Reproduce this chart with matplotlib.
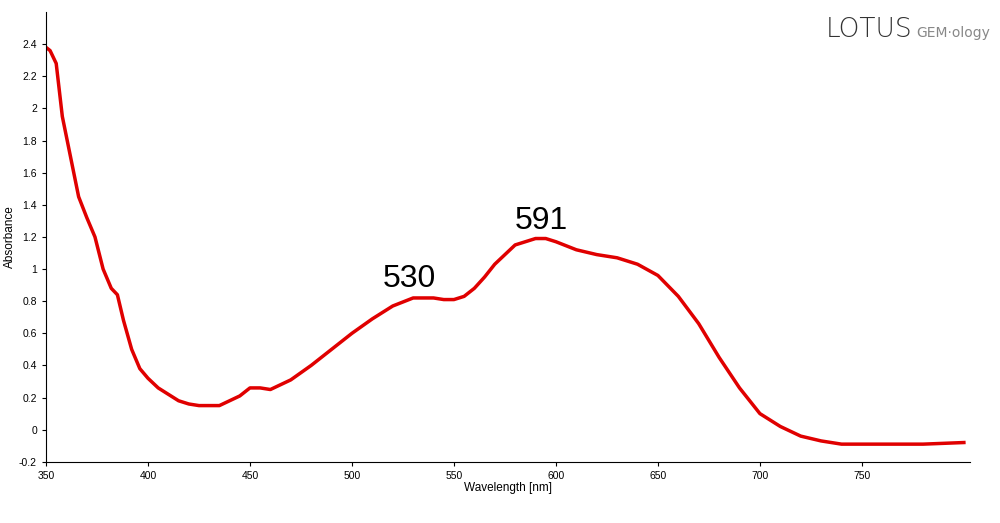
import matplotlib.pyplot as plt
import numpy as np

# spectrum
wl = [350, 352, 355, 358, 362, 366, 370, 374, 378, 382, 385, 388, 392, 396, 400, 405, 410, 415, 420, 425,
      430, 435, 440, 445, 450, 455, 460, 465, 470, 480, 490, 500, 510, 520, 530, 540, 545, 550, 555,
      560, 565, 570, 580, 590, 595, 600, 610, 620, 630, 640, 650, 660, 670, 680, 690, 700, 710, 720,
      730, 740, 750, 760, 770, 780, 790, 800]
absb = [2.38, 2.36, 2.28, 1.95, 1.7, 1.45, 1.32, 1.2, 1.0, 0.88, 0.84, 0.68, 0.5, 0.38, 0.32, 0.26, 0.22, 0.18,
        0.16, 0.15, 0.15, 0.15, 0.18, 0.21, 0.26, 0.26, 0.25, 0.28, 0.31, 0.4, 0.5, 0.6, 0.69, 0.77,
        0.82, 0.82, 0.81, 0.81, 0.83, 0.88, 0.95, 1.03, 1.15, 1.19, 1.19, 1.17, 1.12, 1.09, 1.07, 1.03,
        0.96, 0.83, 0.66, 0.45, 0.26, 0.1, 0.02, -0.04, -0.07, -0.09, -0.09, -0.09, -0.09, -0.09, -0.085, -0.08]
peaks = [530, 591]
label_x = [528, 593]
label_y = [0.89, 1.25]

plt.rcParams['font.family'] = ['Liberation Sans', 'DejaVu Sans']

fig = plt.figure(figsize=(10, 5.23), dpi=100)
ax = fig.add_axes([0.046, 0.117, 0.924, 0.86])
ax.plot(wl, absb, color="#e00000", lw=2.5)
for p, x, y in zip(peaks, label_x, label_y):
    ax.text(x, y, str(p), fontsize=23, ha="center", va="baseline")
ax.set_xlim(350, 803)
ax.set_ylim(-0.2, 2.6)
ax.set_xticks(np.arange(350, 751, 50))
ax.set_yticks(np.round(np.arange(-0.2, 2.41, 0.2), 1))
ax.set_yticklabels(["-0.2", "0", "0.2", "0.4", "0.6", "0.8", "1", "1.2", "1.4", "1.6", "1.8", "2", "2.2", "2.4"])
ax.tick_params(labelsize=7.5, length=3)
for s in ["top", "right"]:
    ax.spines[s].set_visible(False)
ax.set_xlabel("Wavelength [nm]", fontsize=8.5, labelpad=1)
ax.set_ylabel("Absorbance", fontsize=8.5, labelpad=2)
fig.text(0.826, 0.93, "LOTUS", fontsize=19, color="#333333", family="DejaVu Sans", fontweight="light")
fig.text(0.916, 0.93, "GEM\u00b7ology", fontsize=10, color="#888888", family="DejaVu Sans")
fig.savefig("out.png")
